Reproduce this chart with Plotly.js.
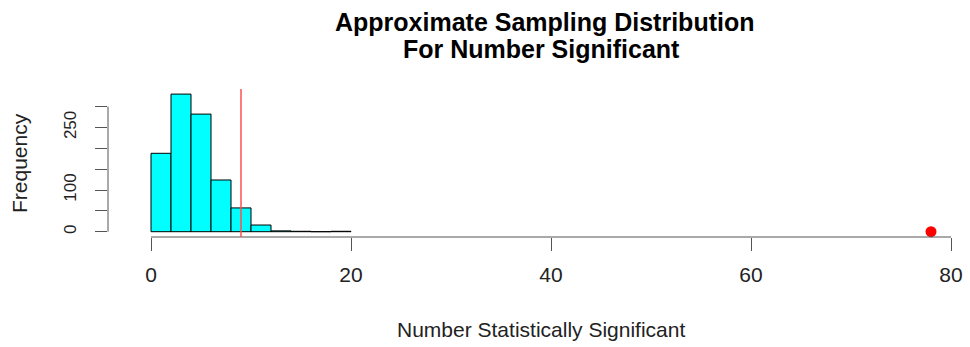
<!DOCTYPE html>
<html>
<head>
<meta charset="utf-8">
<script src="https://cdn.plot.ly/plotly-3.0.1.min.js"></script>
<style>
  html, body { margin: 0; padding: 0; background: #fff; }
  #chart { width: 970px; height: 347px; }
</style>
</head>
<body>
<div id="chart"></div>
<script>
// Histogram bins (width 2) of the simulated number of significant results
const binStarts = [0, 2, 4, 6, 8, 10, 12, 14, 16, 18];
const binCounts = [188, 330, 282, 124, 57, 16, 2, 1, 0, 1];
const binWidth = 2;

// Observed value and reference cut-off
const observedX = [78];
const observedY = [0];
const cutoffX = 9;

// Axis ticks
const xTickVals = [0, 20, 40, 60, 80];
const yTickVals = [0, 50, 100, 150, 200, 250, 300];
const yTickText = ['0', '', '100', '', '', '250', ''];

// Title lines
const titleLines = ['Approximate Sampling Distribution', 'For Number Significant'];

const font = 'Liberation Sans, Arial, Helvetica, sans-serif';
const axisColor = '#555';

// Plot area in pixels (top 89, height 148)
const plotTop = 89, plotH = 148, plotBottom = plotTop + plotH;
const plotLeft = 108, plotW = 852;
const py = px => (plotBottom - px) / plotH;
const pxX = px => (px - plotLeft) / plotW;

const binMids = binStarts.map(s => s + binWidth / 2);

const bars = {
  type: 'bar',
  x: binMids,
  y: binCounts,
  width: binStarts.map(() => binWidth),
  marker: { color: '#00FFFF', line: { color: '#000', width: 1 } },
  hoverinfo: 'x+y'
};

const point = {
  type: 'scatter',
  mode: 'markers',
  x: observedX,
  y: observedY,
  marker: { color: '#FF0000', size: 11 },
  cliponaxis: false
};

const layout = {
  width: 970,
  height: 347,
  margin: { l: plotLeft, r: 970 - plotLeft - plotW, t: plotTop, b: 347 - plotBottom },
  paper_bgcolor: '#fff',
  plot_bgcolor: '#fff',
  showlegend: false,
  bargap: 0,
  font: { family: font, color: '#222' },
  xaxis: {
    range: [-4.3, 80.9],
    tickvals: xTickVals,
    ticktext: xTickVals.map(String),
    ticks: 'outside',
    ticklen: 13,
    tickwidth: 1,
    tickcolor: axisColor,
    ticklabelstandoff: 6,
    showline: false,
    showgrid: false,
    zeroline: false,
    tickfont: { family: font, size: 21, color: '#222' }
  },
  yaxis: {
    range: [-12.7, 342.2],
    tickvals: yTickVals,
    ticktext: yTickText,
    tickangle: -90,
    ticks: 'outside',
    ticklen: 12,
    tickwidth: 1,
    tickcolor: axisColor,
    ticklabelstandoff: 12,
    showline: false,
    showgrid: false,
    zeroline: false,
    tickfont: { family: font, size: 17, color: '#222' }
  },
  shapes: [
    // x axis line from first to last tick
    { type: 'line', xref: 'x', yref: 'paper', x0: xTickVals[0], x1: xTickVals[xTickVals.length - 1], y0: 0, y1: 0,
      line: { color: axisColor, width: 1 } },
    // y axis line from first to last tick
    { type: 'line', xref: 'paper', yref: 'y', x0: 0, x1: 0, y0: yTickVals[0], y1: yTickVals[yTickVals.length - 1],
      line: { color: axisColor, width: 1 } },
    // vertical cut-off line
    { type: 'line', xref: 'x', yref: 'paper', x0: cutoffX, x1: cutoffX, y0: 0, y1: 1,
      line: { color: 'rgb(255,80,80)', width: 1.5 } }
  ],
  annotations: [
    { text: '<b>' + titleLines[0] + '</b>', xref: 'paper', yref: 'paper',
      x: pxX(544), y: py(22), xanchor: 'center', yanchor: 'middle',
      showarrow: false, font: { family: font, size: 25, color: '#000' } },
    { text: '<b>' + titleLines[1] + '</b>', xref: 'paper', yref: 'paper',
      x: pxX(541), y: py(49), xanchor: 'center', yanchor: 'middle',
      showarrow: false, font: { family: font, size: 25, color: '#000' } },
    { text: 'Number Statistically Significant', xref: 'paper', yref: 'paper',
      x: pxX(541), y: py(329), xanchor: 'center', yanchor: 'middle',
      showarrow: false, font: { family: font, size: 21, color: '#222' } },
    { text: 'Frequency', xref: 'paper', yref: 'paper',
      x: pxX(19), y: py(163), xanchor: 'center', yanchor: 'middle',
      textangle: -90, showarrow: false, font: { family: font, size: 21, color: '#222' } }
  ]
};

Plotly.newPlot('chart', [bars, point], layout, { displayModeBar: false, staticPlot: true });
</script>
</body>
</html>
